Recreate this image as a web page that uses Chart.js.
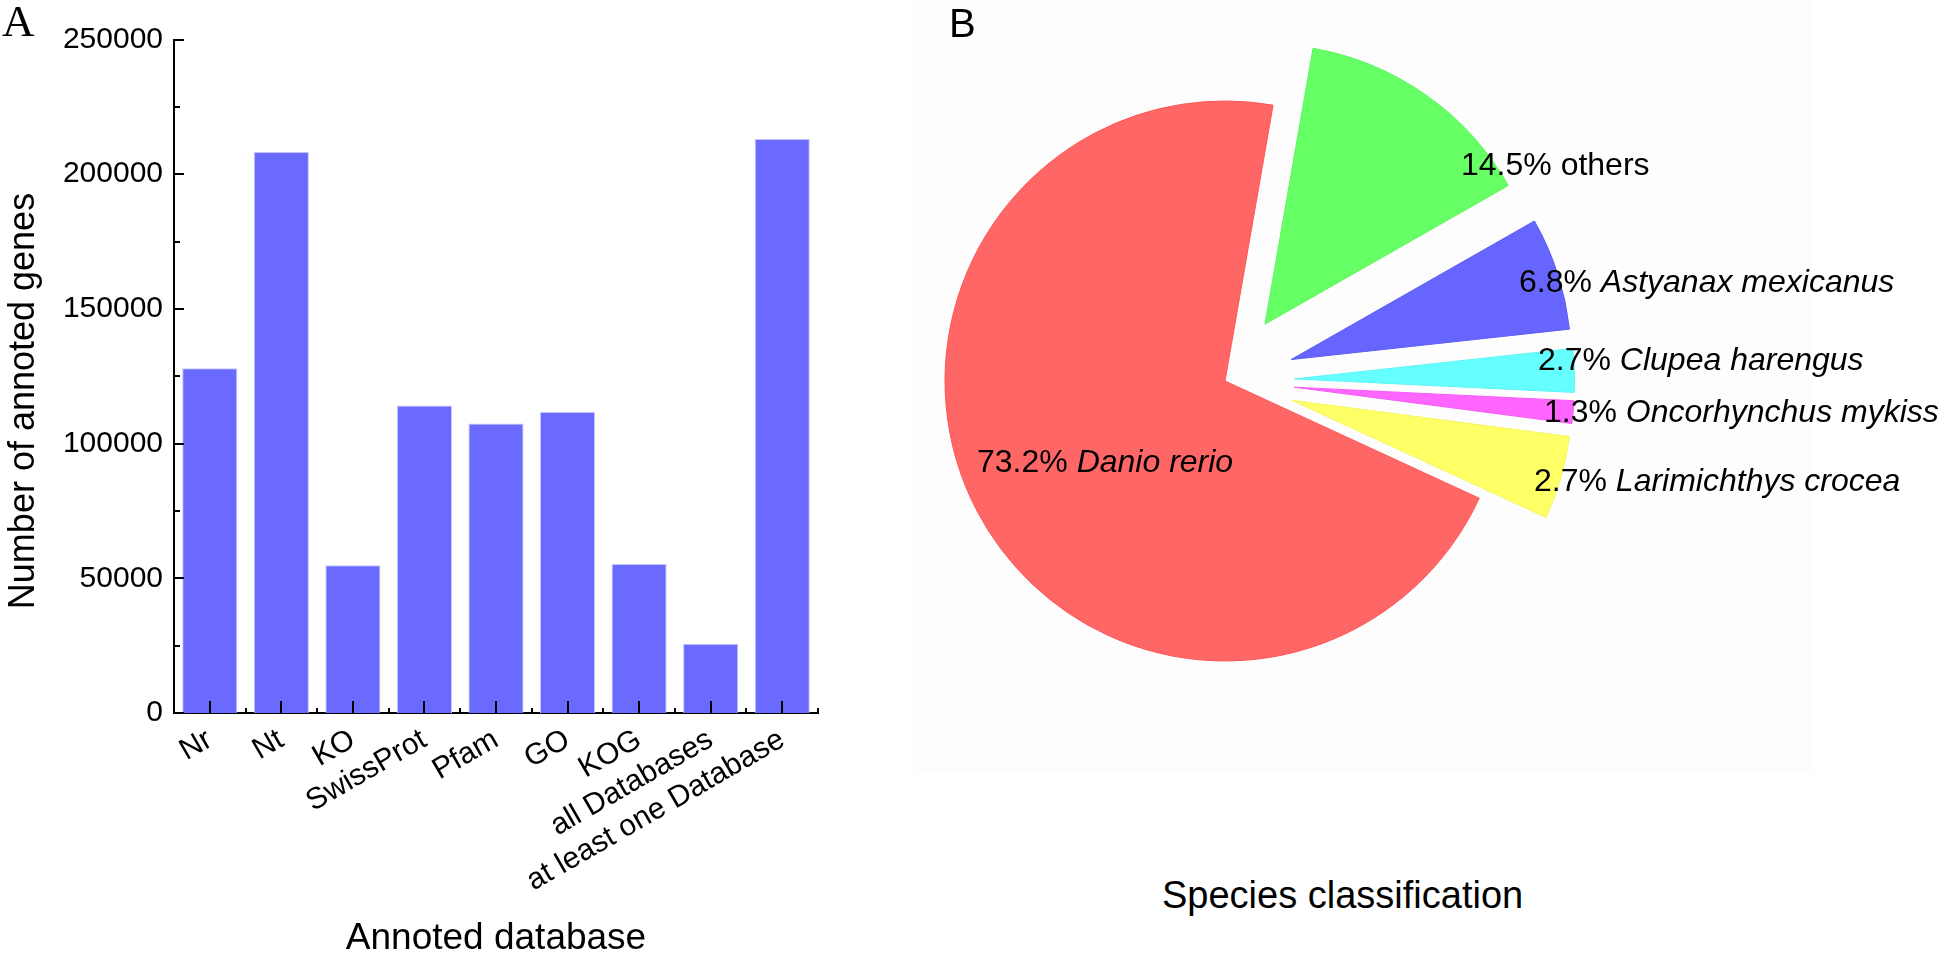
<!DOCTYPE html>
<html>
<head>
<meta charset="utf-8">
<script src="https://cdn.jsdelivr.net/npm/chart.js@4.4.1/dist/chart.umd.min.js"></script>
<style>
  html, body { margin: 0; padding: 0; background: #ffffff; width: 1946px; height: 954px; overflow: hidden;
    font-family: "Liberation Sans", Arial, sans-serif; }
  .abs { position: absolute; white-space: nowrap; line-height: 1; color: #000; }
  #panelBg { position: absolute; left: 913px; top: 0; width: 900px; height: 773px; background: #fdfdfd; }
  #barWrap { position: absolute; left: 0; top: 0; width: 880px; height: 954px; }
  #pieWrap { position: absolute; left: 845px; top: 1px; width: 760px; height: 760px; }
  #yTitle { left: 22px; top: 401px; font-size: 36px; transform: translate(-50%, -50%) rotate(-90deg); }
</style>
</head>
<body>
<div id="panelBg"></div>
<div id="barWrap"><canvas id="bar" width="880" height="954"></canvas></div>
<div id="pieWrap"><canvas id="pie" width="760" height="760"></canvas></div>
<div class="abs" style="left:2px;top:-1px;font-family:'Liberation Serif','Times New Roman',serif;font-size:45px;">A</div>
<div class="abs" style="left:949px;top:3px;font-size:40px;">B</div>
<div class="abs" id="yTitle">Number of annoted genes</div>
<div id="pieLabels"></div>
<div class="abs" style="left:1162px;top:876px;font-size:38px;">Species classification</div>

<script>
// ---------- Data (panel A) ----------
const categories = ['Nr', 'Nt', 'KO', 'SwissProt', 'Pfam', 'GO', 'KOG', 'all Databases', 'at least one Database'];
const geneCounts = [128000, 208200, 54800, 114100, 107500, 111700, 55300, 25700, 213100];
const yTickValues = [0, 50000, 100000, 150000, 200000, 250000];
const yMinorStep = 25000;

// ---------- Data (panel B) ----------
const speciesNames = ['Danio rerio', 'others', 'Astyanax mexicanus', 'Clupea harengus', 'Oncorhynchus mykiss', 'Larimichthys crocea'];
const speciesPercentText = ['73.2%', '14.5%', '6.8%', '2.7%', '1.3%', '2.7%'];
const speciesShares = [70.8, 14.0, 6.5, 2.5, 1.3, 4.8];   // slice sizes as drawn
const speciesItalic = [true, false, true, true, true, true];
const speciesExploded = [false, true, true, true, true, true];
const speciesColors = ['#FF6666', '#66FF66', '#6666FF', '#66FFFF', '#FF66FF', '#FFFF66'];
const speciesEdge = ['#FF5555', '#5CF55C', '#5C5CF5', '#5CF5F5', '#F55CF5', '#F5F55C'];

// label placement (left x, cap-centre y) on the page
const pieLabelPlace = [[977, 461], [1461, 164], [1519, 281], [1538, 359], [1544, 411], [1534, 480]];
const pieLabelSize = 32;

Chart.defaults.font.family = "'Liberation Sans', Arial, sans-serif";
Chart.defaults.color = '#000';

// inward major/minor tick marks, placed through the chart's own scales
const innerTicks = {
  id: 'innerTicks',
  afterDraw(chart) {
    const { ctx, chartArea } = chart;
    const x = chart.scales.x, y = chart.scales.y;
    ctx.save();
    ctx.strokeStyle = '#000';
    ctx.lineWidth = 2;
    ctx.beginPath();
    const yMax = yTickValues[yTickValues.length - 1];
    for (let v = yTickValues[0]; v <= yMax; v += yMinorStep) {
      const py = Math.round(y.getPixelForValue(v));
      const major = yTickValues.includes(v);
      ctx.moveTo(chartArea.left, py);
      ctx.lineTo(chartArea.left + (major ? 10 : 6), py);
    }
    categories.forEach((c, i) => {
      const px = Math.round(x.getPixelForValue(i));
      ctx.moveTo(px, chartArea.bottom);
      ctx.lineTo(px, chartArea.bottom - 12);
    });
    for (let i = 1; i <= categories.length; i++) {
      const px = Math.round(x.getPixelForValue(i - 0.5));
      ctx.moveTo(px, chartArea.bottom);
      ctx.lineTo(px, chartArea.bottom - 5);
    }
    ctx.stroke();
    ctx.restore();
  }
};

new Chart(document.getElementById('bar'), {
  type: 'bar',
  data: {
    labels: categories,
    datasets: [{
      data: geneCounts,
      backgroundColor: '#6A6AFF',
      borderColor: '#C4C4FF',
      borderWidth: 1,
      barPercentage: 0.77,
      categoryPercentage: 1.0
    }]
  },
  options: {
    responsive: false,
    animation: false,
    events: [],
    layout: { padding: { left: 0, right: 62, top: 39.5, bottom: 0 } },
    plugins: { legend: { display: false }, tooltip: { enabled: false } },
    scales: {
      x: {
        grid: { display: false, drawTicks: false },
        border: { display: true, color: '#000', width: 2 },
        ticks: { color: '#000', font: { size: 30 }, minRotation: 30, maxRotation: 30, autoSkip: false, padding: 9 },
        title: { display: true, text: 'Annoted database', color: '#000',
                 font: { size: 37, lineHeight: 0.8 }, padding: { top: 0, bottom: 0 } },
        afterFit: s => { s.height = 954 - 713; }
      },
      y: {
        min: yTickValues[0],
        max: yTickValues[yTickValues.length - 1],
        grid: { display: false, drawTicks: false },
        border: { display: true, color: '#000', width: 2 },
        afterBuildTicks: s => { s.ticks = yTickValues.map(v => ({ value: v })); },
        ticks: { color: '#000', font: { size: 30 }, padding: 11, callback: v => String(v) },
        title: { display: false },
        afterFit: s => { s.width = 174; }
      }
    }
  },
  plugins: [innerTicks]
});

// ---------- Pie ----------
const pieRadius = 280;
const explodeDist = 69.5;
// pull the exploded slices out along their mid-angle, keeping radius and angle unchanged
const explodeSlices = {
  id: 'explodeSlices',
  beforeDatasetsDraw(chart) {
    const ca = chart.chartArea;
    const cx = (ca.left + ca.right) / 2, cy = (ca.top + ca.bottom) / 2;
    chart.getDatasetMeta(0).data.forEach((arc, i) => {
      const d = speciesExploded[i] ? explodeDist : 0;
      const mid = (arc.startAngle + arc.endAngle) / 2;
      arc.x = cx + Math.cos(mid) * d;
      arc.y = cy + Math.sin(mid) * d;
      arc.outerRadius = pieRadius;
    });
  }
};

new Chart(document.getElementById('pie'), {
  type: 'pie',
  data: {
    labels: speciesNames,
    datasets: [{
      data: speciesShares,
      backgroundColor: speciesColors,
      borderColor: speciesEdge,
      borderWidth: 1
    }]
  },
  options: {
    responsive: false,
    animation: false,
    events: [],
    radius: pieRadius,
    rotation: 114.75,
    layout: { padding: 0 },
    plugins: { legend: { display: false }, tooltip: { enabled: false } }
  },
  plugins: [explodeSlices]
});

// slice labels as real text
const holder = document.getElementById('pieLabels');
speciesNames.forEach((name, i) => {
  const d = document.createElement('div');
  d.className = 'abs';
  d.style.fontSize = pieLabelSize + 'px';
  d.style.left = pieLabelPlace[i][0] + 'px';
  d.style.top = (pieLabelPlace[i][1] - pieLabelSize * 0.49) + 'px';
  const pct = document.createElement('span');
  pct.textContent = speciesPercentText[i] + ' ';
  const nm = document.createElement(speciesItalic[i] ? 'i' : 'span');
  nm.textContent = name;
  d.appendChild(pct);
  d.appendChild(nm);
  holder.appendChild(d);
});
</script>
</body>
</html>
